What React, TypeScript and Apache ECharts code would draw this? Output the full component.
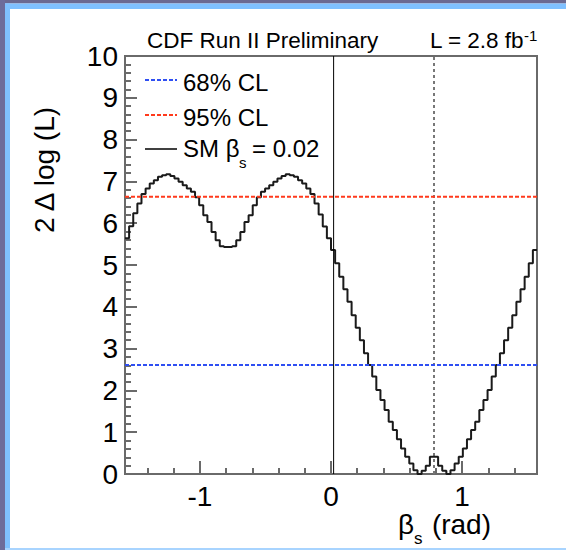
import React, { useEffect, useRef } from "react";
import * as echarts from "echarts";

// ---------- data ----------
const BETA_MIN = -Math.PI / 2;
const BETA_MAX = Math.PI / 2;

// 2 Δ log(L) per bin, 100 equal bins from -π/2 to π/2
const deltaLogL = [
  5.64, 5.93, 6.24, 6.47, 6.70, 6.83, 6.95, 7.03, 7.11, 7.15,
  7.17, 7.13, 7.07, 6.99, 6.91, 6.83, 6.75, 6.62, 6.43, 6.19,
  6.03, 5.79, 5.59, 5.45, 5.43, 5.43, 5.45, 5.59, 5.79, 6.03,
  6.19, 6.43, 6.62, 6.75, 6.83, 6.91, 6.99, 7.07, 7.13, 7.17,
  7.15, 7.11, 7.03, 6.95, 6.83, 6.70, 6.47, 6.21, 5.92, 5.64,
  5.36, 5.04, 4.72, 4.42, 4.12, 3.80, 3.50, 3.20, 2.89, 2.61,
  2.33, 2.01, 1.77, 1.53, 1.25, 1.05, 0.83, 0.61, 0.41, 0.25,
  0.09, 0.00, 0.08, 0.20, 0.41, 0.41, 0.20, 0.08, 0.00, 0.09,
  0.25, 0.41, 0.61, 0.83, 1.05, 1.25, 1.53, 1.77, 2.01, 2.33,
  2.61, 2.89, 3.20, 3.50, 3.80, 4.12, 4.42, 4.72, 5.04, 5.36,
];

const clNames = ["68% CL", "95% CL"];
const clValues = [2.61, 6.63];
const clColors = ["#2f4ff2", "#ff3a1c"];

const smBeta = 0.02;
const mirrorBeta = Math.PI / 4;

const xMajorTicks = [-1, 0, 1];
const xMinorTicks = [-1.4, -1.2, -0.8, -0.6, -0.4, -0.2, 0.2, 0.4, 0.6, 0.8, 1.2, 1.4];

const FONT = "'Liberation Sans', Arial, Helvetica, sans-serif";
const AXIS_GRAY = "#6a6a6a";

export default function App() {
  const ref = useRef<HTMLDivElement>(null);

  useEffect(() => {
    if (!ref.current) return;
    const chart = echarts.init(ref.current, undefined, { renderer: "svg" });

    const nBins = deltaLogL.length;
    const binWidth = (BETA_MAX - BETA_MIN) / nBins;
    const histData: number[][] = deltaLogL.map((v, i) => [BETA_MIN + i * binWidth, v]);
    histData.push([BETA_MAX, deltaLogL[nBins - 1]]);

    const tickLine = { color: AXIS_GRAY, width: 2 };

    const txt = (
      text: string,
      x: number,
      y: number,
      size: number,
      align: string = "left",
      extra: any = {}
    ) => ({
      type: "text",
      x,
      y,
      silent: true,
      ...extra,
      style: {
        text,
        fontSize: size,
        fontFamily: FONT,
        fill: "#000",
        align,
        verticalAlign: "middle",
        textAlign: align,
        textVerticalAlign: "middle",
      },
    });

    const option: any = {
      animation: false,
      backgroundColor: "#ffffff",
      grid: {
        left: 125,
        top: 56,
        right: 29,
        bottom: 76,
        show: true,
        borderColor: AXIS_GRAY,
        borderWidth: 2,
        backgroundColor: "transparent",
      },
      xAxis: [
        {
          type: "value",
          min: BETA_MIN,
          max: BETA_MAX,
          position: "bottom",
          axisLine: { show: true, onZero: false, lineStyle: tickLine },
          axisTick: { show: true, inside: true, length: 13, customValues: xMajorTicks, lineStyle: tickLine },
          axisLabel: {
            show: true,
            customValues: xMajorTicks,
            formatter: (v: number) => String(Math.round(v)),
            fontSize: 28,
            fontFamily: FONT,
            color: "#000",
            margin: 8,
          },
          splitLine: { show: false },
        },
        {
          type: "value",
          min: BETA_MIN,
          max: BETA_MAX,
          position: "bottom",
          axisLine: { show: false, onZero: false },
          axisTick: { show: true, inside: true, length: 6, customValues: xMinorTicks, lineStyle: tickLine },
          axisLabel: { show: false },
          splitLine: { show: false },
        },
      ],
      yAxis: {
        type: "value",
        min: 0,
        max: 10,
        interval: 1,
        axisLine: { show: true, onZero: false, lineStyle: tickLine },
        axisTick: { show: true, inside: true, length: 12, lineStyle: tickLine },
        minorTick: { show: true, splitNumber: 5, length: 6, lineStyle: tickLine },
        axisLabel: {
          fontSize: 28,
          fontFamily: FONT,
          color: "#000",
          margin: 7,
          padding: [7, 0, 0, 0],
        },
        splitLine: { show: false },
        minorSplitLine: { show: false },
      },
      series: [
        {
          name: "2ΔlogL",
          type: "line",
          xAxisIndex: 0,
          data: histData,
          step: "end",
          symbol: "none",
          lineStyle: { color: "#1a1a1a", width: 2 },
          z: 3,
        },
        ...clValues.map((v, i) => ({
          name: clNames[i],
          type: "line",
          xAxisIndex: 0,
          data: [
            [BETA_MIN, v],
            [BETA_MAX, v],
          ],
          symbol: "none",
          lineStyle: { color: clColors[i], width: 2, type: [4, 2] },
          z: 4,
        })),
        {
          name: "SM",
          type: "line",
          xAxisIndex: 0,
          data: [
            [smBeta, 0],
            [smBeta, 10],
          ],
          symbol: "none",
          lineStyle: { color: "#000", width: 1 },
          z: 4,
        },
        {
          name: "mirror",
          type: "line",
          xAxisIndex: 0,
          data: [
            [mirrorBeta, 0],
            [mirrorBeta, 10],
          ],
          symbol: "none",
          lineStyle: { color: "#777", width: 2, type: [3, 3] },
          z: 2,
        },
      ],
      graphic: [
        // slide frame pieces
        { type: "rect", silent: true, shape: { x: 0, y: 0, width: 566, height: 3.5 }, style: { fill: "#6b6992" } },
        { type: "rect", silent: true, shape: { x: 0, y: 0, width: 5, height: 550 }, style: { fill: "#6d6c9b" } },
        { type: "rect", silent: true, shape: { x: 5, y: 3.5, width: 561, height: 5.5 }, style: { fill: "#7fc0ff" } },
        { type: "rect", silent: true, shape: { x: 5, y: 3.5, width: 5, height: 546.5 }, style: { fill: "#7fc0ff" } },
        { type: "rect", silent: true, shape: { x: 5, y: 548, width: 561, height: 2 }, style: { fill: "#a8d4ff" } },
        // header texts
        txt("CDF Run II Preliminary", 147, 40.2, 22.5),
        txt("L = 2.8 fb", 430, 40.2, 22.5),
        txt("-1", 524, 35, 15),
        // legend
        { type: "line", silent: true, shape: { x1: 145, y1: 80, x2: 177, y2: 80 }, style: { stroke: clColors[0], lineWidth: 2, lineDash: [4, 2] } },
        txt(clNames[0], 183, 82, 24),
        { type: "line", silent: true, shape: { x1: 145, y1: 115, x2: 177, y2: 115 }, style: { stroke: clColors[1], lineWidth: 2, lineDash: [4, 2] } },
        txt(clNames[1], 183, 117, 24),
        { type: "line", silent: true, shape: { x1: 145, y1: 149, x2: 177, y2: 149 }, style: { stroke: "#000", lineWidth: 1.5 } },
        txt("SM β", 183, 148, 24),
        txt("s", 239, 162, 15),
        txt("= " + smBeta.toFixed(2), 252, 148, 24),
        // axis titles
        txt("2 Δ log (L)", 44, 170, 28, "center", { rotation: Math.PI / 2 }),
        txt("β", 398, 524, 28),
        txt("s", 414, 538, 17),
        txt("(rad)", 491, 524, 28, "right"),
      ],
    };

    chart.setOption(option);
    return () => chart.dispose();
  }, []);

  return (
    <div
      ref={ref}
      style={{ position: "fixed", left: 0, top: 0, width: 566, height: 550, background: "#fff" }}
    />
  );
}
